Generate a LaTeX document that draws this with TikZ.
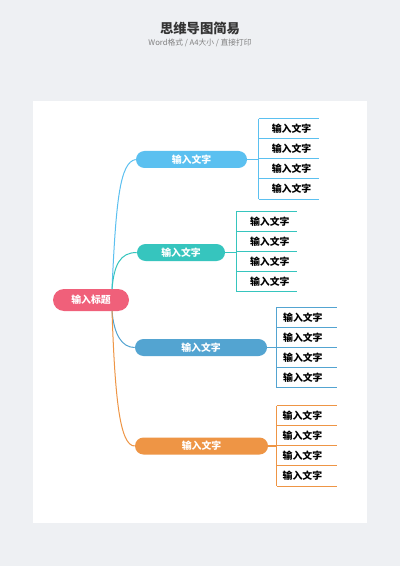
\documentclass[tikz,border=0pt]{standalone}
\usepackage{fontspec}
\setmainfont{Noto Sans CJK SC}
\usetikzlibrary{shapes.misc}
\definecolor{bgc}{HTML}{EEF0F3}
\definecolor{rootc}{HTML}{F0607A}
\definecolor{cA}{HTML}{5BC0F0}
\definecolor{cB}{HTML}{36C5BE}
\definecolor{cC}{HTML}{53A4D1}
\definecolor{cD}{HTML}{EE9545}
\tikzset{
  pill/.style={rounded rectangle, inner sep=0pt, minimum height=12.75pt, text=white, font=\fontsize{7.4pt}{8pt}\selectfont\bfseries},
  leaf/.style={rectangle, inner sep=0pt, minimum width=45pt, text width=45pt, align=left, minimum height=15pt, text=black, font=\fontsize{7.4pt}{8pt}\selectfont\bfseries},
  conn/.style={line width=0.75pt},
  lf/.style={line width=0.9pt}
}
\begin{document}
\begin{tikzpicture}[x=0.75pt,y=-0.75pt]
\fill[bgc] (0,0) rectangle (400,566);
\useasboundingbox (0,0) rectangle (400,566);
\fill[white] (33,101) rectangle (367,523);

\node[font=\fontsize{10pt}{12pt}\selectfont\bfseries, text=black!80] (title) at (200,28) {思维导图简易};
\node[font=\fontsize{5.8pt}{7pt}\selectfont, text=black!50] (sub) at (200,42.5) {Word格式 / A4大小 / 直接打印};

% root
\node[pill, fill=rootc, minimum width=57pt, minimum height=16.5pt] (root) at (91,300) {输入标题};
\coordinate (rt) at (112,289.2);
\coordinate (rb) at (112,310.8);

% branches
\node[pill, fill=cA, minimum width=83.25pt] (b1) at (191.5,159.5) {输入文字};
\node[pill, fill=cB, minimum width=66pt] (b2) at (181,252.5) {输入文字};
\node[pill, fill=cC, minimum width=99pt] (b3) at (201,347.5) {输入文字};
\node[pill, fill=cD, minimum width=99.75pt] (b4) at (201.5,446) {输入文字};

% connectors root -> branches
\draw[conn, cA] (rt) .. controls (116,200) and (120,162) .. (b1.west);
\draw[conn, cB] (rt) .. controls (114,265) and (120,252.5) .. (b2.west);
\draw[conn, cC] (rb) .. controls (114,335) and (122,347.5) .. (b3.west);
\draw[conn, cD] (rb) .. controls (115,400) and (120,446) .. (b4.west);

% leaves
\foreach \b/\x/\y/\c/\o in {1/289/119/cA/9.6, 2/267/211.5/cB/9.8, 3/307/307.5/cC/4.6, 4/307/406/cD/4.3}{
  \foreach \i in {1,2,3,4}{
    \node[leaf] (l\b\i) at (\x,\y+20*\i-10) {\hspace*{\o pt}输入文字};
    \draw[lf, \c] (l\b\i.north west) -- (l\b\i.north east);
  }
  \draw[lf, \c] (l\b4.south west) -- (l\b4.south east);
  \draw[lf, \c] (l\b1.north west) -- (l\b4.south west);
  \draw[lf, \c] (b\b.east) -- (b\b.east -| l\b2.south west);
}
\end{tikzpicture}
\end{document}
